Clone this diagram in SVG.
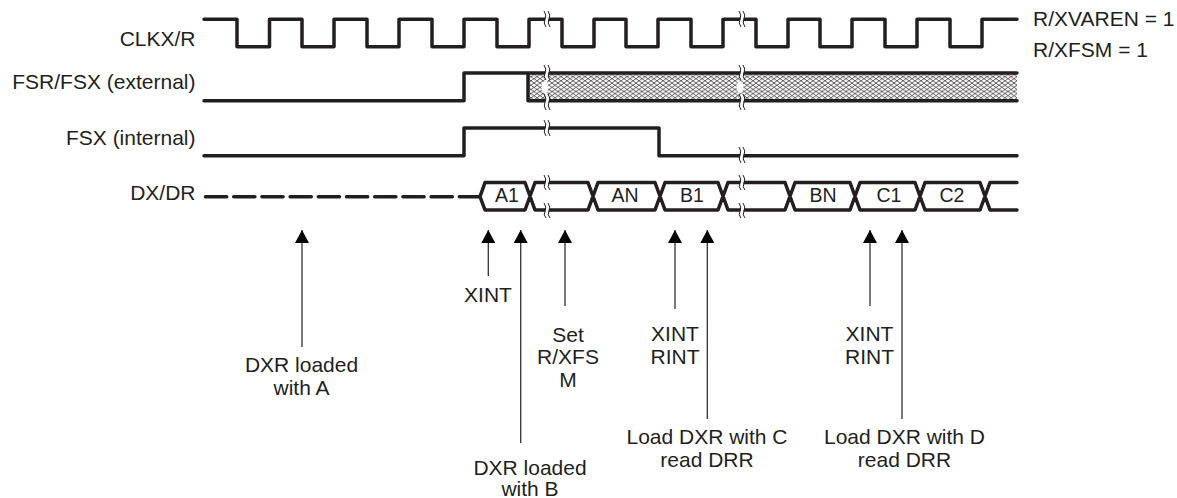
<svg xmlns="http://www.w3.org/2000/svg" width="1177" height="498" viewBox="0 0 1177 498">
<style>
.w{fill:none;stroke:#231f20;stroke-width:3.500;stroke-linecap:round;stroke-linejoin:round}
.b{fill:none;stroke:#231f20;stroke-width:1}
.g{fill:none;stroke:#fff;stroke-width:3}
.l{fill:none;stroke:#333;stroke-width:1.300}
.h{fill:#000}
text{font-family:"Liberation Sans",Arial,sans-serif;font-size:21px;fill:#231f20}
.m{text-anchor:middle}
.e{text-anchor:end}
.s{font-size:19.500px}
</style>
<defs>
<pattern id="hatch" width="6" height="8.500" patternUnits="userSpaceOnUse" x="528" y="74.500">
<path d="M0 0L6 4.250L0 8.500M6 0L0 4.250L6 8.500" fill="none" stroke="#231f20" stroke-width="0.750"/>
</pattern>
<marker id="ah" markerWidth="14" markerHeight="13" refX="7" refY="0" orient="0" markerUnits="userSpaceOnUse" viewBox="0 0 14 13"><path d="M0 13L7 0L14 13Z" class="h"/></marker>
</defs>
<g id="labels">
<text class="e" x="195.500" y="45.500">CLKX/R</text>
<text class="e" x="195.500" y="89">FSR/FSX (external)</text>
<text class="e" x="195.500" y="144.500">FSX (internal)</text>
<text class="e" x="195.500" y="200">DX/DR</text>
<text x="1033" y="26">R/XVAREN = 1</text>
<text x="1033" y="57">R/XFSM = 1</text>
</g>
<g id="connectors">
<path class="w" d="M204 19.300H237V46.700H269.500V19.300H302V46.700H334V19.300H367V46.700H399V19.300H432V46.700H464V19.300H497V46.700H529V19.300H562V46.700H594V19.300H626V46.700H658V19.300H691V46.700H723V19.300H756V46.700H788V19.300H820V46.700H852V19.300H885V46.700H917V19.300H950V46.700H982V19.300H1017"/>
<rect x="528" y="73" width="489" height="27.500" fill="url(#hatch)"/>
<path class="w" d="M204 100.700H464V73H1017M1017 100.700H528V73"/>
<path class="w" d="M204 155.700H464V128H659V155.700H1017"/>
<path class="w" style="stroke-dasharray:21.200 7" d="M205.500 196.700H480"/>
<path class="w" d="M480 196.700L485 182.500H525L535 210H588L598 182.500H655L665 210H718L728 182.500H785L795 210H850L860 182.500H915L925 210H980L990 182.500H1017M480 196.700L485 210H525L535 182.500H588L598 210H655L665 182.500H718L728 210H785L795 182.500H850L860 210H915L925 182.500H980L990 210H1017"/>
<g id="breaks">
<ellipse cx="545" cy="87" rx="3.500" ry="6" fill="#fff"/>
<ellipse cx="740" cy="87" rx="3.500" ry="6" fill="#fff"/>
<path class="g" d="M546 11Q549 15 547 19T548 27M546 65Q549 69 547 73T548 80M546 94Q549 98 547 102T548 110M546 120Q549 124 547 128T548 136M546 175Q549 179 547 183T548 190M546 203Q549 207 547 211T548 218M741 11Q744 15 742 19T743 27M741 65Q744 69 742 73T743 80M741 94Q744 98 742 102T743 110M741 147Q744 151 742 155T743 163M741 175Q744 179 742 183T743 190M741 203Q744 207 742 211T743 218"/>
<path class="b" d="M544 11Q547 15 545 19T546 27M548 11Q551 15 549 19T550 27M544 65Q547 69 545 73T546 80M548 65Q551 69 549 73T550 80M544 94Q547 98 545 102T546 110M548 94Q551 98 549 102T550 110M544 120Q547 124 545 128T546 136M548 120Q551 124 549 128T550 136M544 175Q547 179 545 183T546 190M548 175Q551 179 549 183T550 190M544 203Q547 207 545 211T546 218M548 203Q551 207 549 211T550 218"/>
<path class="b" d="M739 11Q742 15 740 19T741 27M743 11Q746 15 744 19T745 27M739 65Q742 69 740 73T741 80M743 65Q746 69 744 73T745 80M739 94Q742 98 740 102T741 110M743 94Q746 98 744 102T745 110M739 147Q742 151 740 155T741 163M743 147Q746 151 744 155T745 163M739 175Q742 179 740 183T741 190M743 175Q746 179 744 183T745 190M739 203Q742 207 740 211T741 218M743 203Q746 207 744 211T745 218"/>
</g>
<path class="l" marker-start="url(#ah)" d="M302 230V347"/>
<path class="l" marker-start="url(#ah)" d="M488.300 230V276"/>
<path class="l" marker-start="url(#ah)" d="M520.700 230V443"/>
<path class="l" marker-start="url(#ah)" d="M565 230V306"/>
<path class="l" marker-start="url(#ah)" d="M675 230V309"/>
<path class="l" marker-start="url(#ah)" d="M707.300 230V419"/>
<path class="l" marker-start="url(#ah)" d="M870 230V306"/>
<path class="l" marker-start="url(#ah)" d="M902 230V419"/>
</g>
<g id="bits">
<text class="m s" x="507" y="202">A1</text>
<text class="m s" x="625" y="202">AN</text>
<text class="m s" x="692" y="202">B1</text>
<text class="m s" x="823" y="202">BN</text>
<text class="m s" x="889" y="202">C1</text>
<text class="m s" x="952" y="202">C2</text>
</g>
<g id="n1"><text class="m" x="301.500" y="372">DXR loaded</text><text class="m" x="301.500" y="395">with A</text></g>
<g id="n2"><text class="m" x="488" y="302">XINT</text></g>
<g id="n3"><text class="m" x="530" y="475">DXR loaded</text><text class="m" x="530" y="496">with B</text></g>
<g id="n4"><text class="m" x="568" y="342">Set</text><text class="m" x="568" y="364">R/XFS</text><text class="m" x="568" y="387">M</text></g>
<g id="n5"><text class="m" x="675" y="341">XINT</text><text class="m" x="675" y="363.500">RINT</text></g>
<g id="n6"><text class="m" x="707" y="443.500">Load DXR with C</text><text class="m" x="707" y="466.500">read DRR</text></g>
<g id="n7"><text class="m" x="869.500" y="341">XINT</text><text class="m" x="869.500" y="363.500">RINT</text></g>
<g id="n8"><text class="m" x="904.500" y="443.500">Load DXR with D</text><text class="m" x="904.500" y="466.500">read DRR</text></g>
</svg>
